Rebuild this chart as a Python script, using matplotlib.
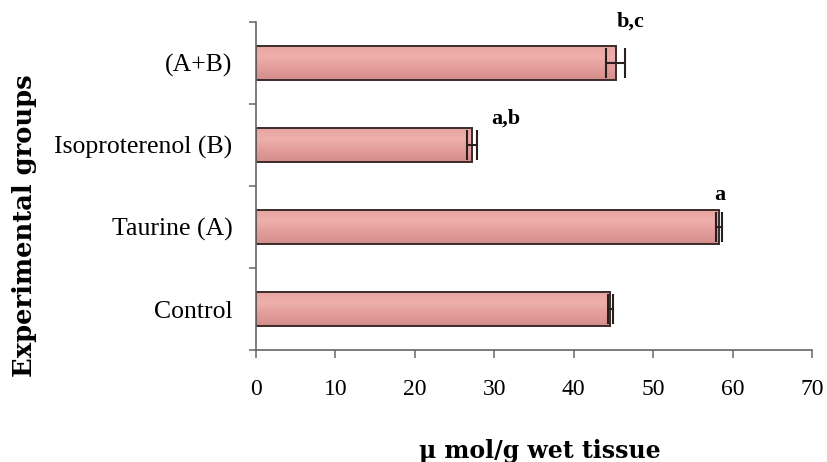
import numpy as np
import matplotlib.pyplot as plt
from matplotlib.colors import LinearSegmentedColormap

# group means and SEM, bottom to top
groups = ['Control', 'Taurine (A)', 'Isoproterenol (B)', '(A+B)']
values = [44.6, 58.3, 27.2, 45.3]
errors = [0.3, 0.4, 0.6, 1.2]
sig_labels = ['', 'a', 'a,b', 'b,c']

# where the significance letters sit relative to the bar end / bar centre
lab_dx = [0.0, -0.3, 3.6, 0.6]
lab_dy = [0.0, 0.39, 0.32, 0.50]

plt.rcParams['font.family'] = ['Liberation Serif', 'DejaVu Serif']

fig = plt.figure(figsize=(8.27, 4.62), dpi=100)
ax = fig.add_axes([0.3096, 0.2424, 0.6723, 0.7100])

pos = np.arange(len(groups))
bars = ax.barh(pos, values, height=0.42, color='#e6a19e', edgecolor='#3b2b2b',
               linewidth=1.4, zorder=2)

# soft vertical shading inside each bar
shade = LinearSegmentedColormap.from_list(
    'shade', ['#d38d8b', '#e39c99', '#eeb0ac', '#e7a4a0'])
grad = np.linspace(0, 1, 64).reshape(-1, 1)
for b in bars:
    x0, y0 = b.get_x(), b.get_y()
    im = ax.imshow(grad, cmap=shade, aspect='auto', origin='lower',
                   extent=[x0, x0 + b.get_width(), y0, y0 + b.get_height()],
                   zorder=2.1)
    im.set_clip_path(b)
    b.set_facecolor('none')
    b.set_zorder(2.2)

ax.errorbar(values, pos, xerr=errors, fmt='none', ecolor='#2a1f1f',
            elinewidth=1.5, capsize=11, capthick=1.5, zorder=3)

for i, lab in enumerate(sig_labels):
    if lab:
        ax.text(values[i] + errors[i] + lab_dx[i], pos[i] + lab_dy[i], lab,
                ha='center', va='center', fontsize=16, fontweight='bold',
                clip_on=False)

ax.set_xlim(0, 70)
ax.set_ylim(-0.5, 3.5)
ax.set_xticks(np.arange(0, 71, 10))
ax.set_yticks(pos)
ax.set_yticklabels(groups)
ax.set_yticks(np.arange(-0.5, 3.6, 1.0), minor=True)

ax.tick_params(axis='x', direction='out', length=6, width=1.1, color='#666666',
               labelsize=17, pad=15)
ax.tick_params(axis='y', which='major', length=0, labelsize=18.5, pad=17)
ax.tick_params(axis='y', which='minor', direction='out', length=5, width=1.1,
               color='#666666')

for side in ['top', 'right']:
    ax.spines[side].set_visible(False)
for side in ['left', 'bottom']:
    ax.spines[side].set_color('#666666')
    ax.spines[side].set_linewidth(1.2)

ax.set_xlabel('\u03bc mol/g wet tissue', fontsize=17, fontweight='bold',
              family='DejaVu Serif')
ax.xaxis.set_label_coords(0.51, -0.27)
ax.set_ylabel('Experimental groups', fontsize=18.5, fontweight='bold',
              family='DejaVu Serif')
ax.yaxis.set_label_coords(-0.394, 0.38)

fig.savefig('out.png', dpi=100)
